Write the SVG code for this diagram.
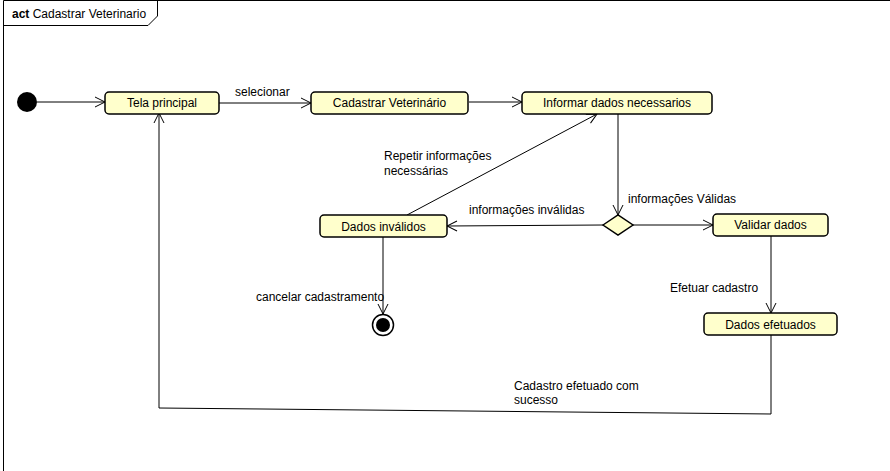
<svg xmlns="http://www.w3.org/2000/svg" width="890" height="471" viewBox="0 0 890 471">
<defs>
<style>
text{font-family:"Liberation Sans",Arial,sans-serif;font-size:12px;fill:#000}
.n{fill:#ffffcc;stroke:#000;stroke-width:1.5}
.c{fill:none;stroke:#000;stroke-width:1}
.t{text-anchor:middle}
</style>
<marker id="a" viewBox="0 0 12 12" refX="11" refY="6" markerWidth="12" markerHeight="12" markerUnits="userSpaceOnUse" orient="auto">
<path d="M1 1 L11 6 L1 11" fill="none" stroke="#000" stroke-width="1"/>
</marker>
</defs>
<rect width="890" height="471" fill="#fff"/>
<g id="frame">
<path d="M3.5 471 V0.5 H890" fill="none" stroke="#000" stroke-width="1"/>
<path d="M3.5 25.5 H148 L157.5 16 V0.5" fill="none" stroke="#000" stroke-width="1"/>
<text x="12" y="18"><tspan font-weight="bold">act</tspan> Cadastrar Veterinario</text>
</g>
<g id="connectors">
<line class="c" x1="37" y1="102" x2="105" y2="102" marker-end="url(#a)"/>
<line class="c" x1="219" y1="103" x2="311" y2="103" marker-end="url(#a)"/>
<text x="235" y="96">selecionar</text>
<line class="c" x1="469" y1="102" x2="522" y2="102" marker-end="url(#a)"/>
<line class="c" x1="618" y1="114" x2="618" y2="215" marker-end="url(#a)"/>
<text x="628" y="203">informações Válidas</text>
<line class="c" x1="603" y1="225" x2="447" y2="226" marker-end="url(#a)"/>
<text x="469" y="214">informações inválidas</text>
<line class="c" x1="633" y1="225" x2="713" y2="225" marker-end="url(#a)"/>
<line class="c" x1="407" y1="215" x2="597" y2="114" marker-end="url(#a)"/>
<text x="384" y="160">Repetir informações</text>
<text x="384" y="175">necessárias</text>
<line class="c" x1="383" y1="237" x2="383" y2="314" marker-end="url(#a)"/>
<text x="256" y="301">cancelar cadastramento</text>
<line class="c" x1="771" y1="236" x2="771" y2="313" marker-end="url(#a)"/>
<text x="670" y="292">Efetuar cadastro</text>
<path class="c" d="M771 335 V414 L159 408 V113" marker-end="url(#a)"/>
<text x="514" y="390">Cadastro efetuado com</text>
<text x="514" y="404">sucesso</text>
</g>
<g id="start"><circle cx="27" cy="102" r="10" fill="#000"/></g>
<g id="tela"><rect class="n" x="105" y="92" width="114" height="22" rx="4"/><text class="t" x="162" y="107">Tela principal</text></g>
<g id="cadastrar"><rect class="n" x="311" y="92" width="157" height="22" rx="4"/><text class="t" x="389.5" y="107">Cadastrar Veterinário</text></g>
<g id="informar"><rect class="n" x="522" y="92" width="190" height="22" rx="4"/><text class="t" x="617" y="107">Informar dados necessarios</text></g>
<g id="decision"><polygon class="n" points="603,225 618,215 633,225 618,235" stroke-width="1.2"/></g>
<g id="invalidos"><rect class="n" x="320" y="215" width="127" height="22" rx="4"/><text class="t" x="383.5" y="231">Dados inválidos</text></g>
<g id="validar"><rect class="n" x="713" y="214" width="115" height="22" rx="4"/><text class="t" x="770.5" y="229">Validar dados</text></g>
<g id="efetuados"><rect class="n" x="704" y="313" width="133" height="22" rx="4"/><text class="t" x="770.5" y="329">Dados efetuados</text></g>
<g id="end"><circle cx="383" cy="325" r="10.5" fill="#fff" stroke="#000" stroke-width="1.5"/><circle cx="383" cy="325" r="7" fill="#000"/></g>
</svg>
